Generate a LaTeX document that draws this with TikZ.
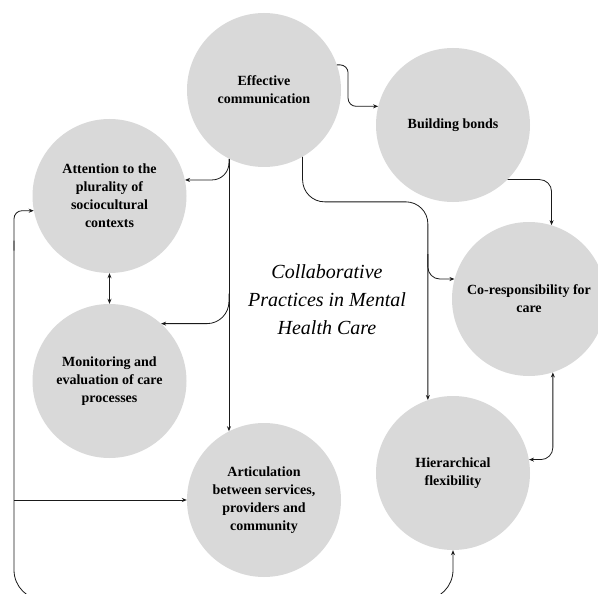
\documentclass[tikz,border=0pt]{standalone}
\usepackage{fontspec}
\setmainfont{Liberation Serif}
\usetikzlibrary{arrows.meta,calc}
\definecolor{circfill}{HTML}{D9D9D9}
\definecolor{ink}{HTML}{1A1A1A}
\begin{document}
\begin{tikzpicture}[x=1pt,y=-1pt,
  bubble/.style={circle,fill=circfill,minimum size=154pt,inner sep=0pt,align=center,
    font=\fontsize{14}{18}\selectfont\bfseries,text=black},
  titletext/.style={align=center,font=\fontsize{20}{28}\selectfont\itshape,text=black},
  conn/.style={draw=ink,line width=0.8pt,-{Stealth[length=5pt,width=4pt]}},
  conntwo/.style={draw=ink,line width=0.8pt,{Stealth[length=5pt,width=4pt]}-{Stealth[length=5pt,width=4pt]}}]
\useasboundingbox (0,0) rectangle (598,594);
\clip (0,0) rectangle (598,594);
\fill[white] (0,0) rectangle (598,594);

\node[bubble] (ec) at (264,90) {Effective\\communication};
\node[bubble] (bb) at (453,125) {Building bonds};
\node[bubble] (at) at (109.5,196) {Attention to the\\plurality of\\sociocultural\\contexts};
\node[bubble] (cr) at (529,299) {Co-responsibility for\\care};
\node[bubble] (mo) at (109.5,381) {Monitoring and\\evaluation of care\\processes};
\node[bubble] (ar) at (264,500) {Articulation\\between services,\\providers and\\community};
\node[bubble] (hf) at (453,473) {Hierarchical\\flexibility};
\node[titletext] (tt) at (327,300) {Collaborative\\Practices in Mental\\Health Care};

% Effective communication -> Building bonds
\draw[conn,rounded corners=8pt] (ec.19) -| ($(bb.166)+(-30,0)$) -- (bb.166);
% Effective communication -> left column
\draw[conn,rounded corners=17pt] (ec.-117) |- (at.12);
\draw[conn] (ec.-117) -- (ar.117);
\coordinate (mb) at (ec.-117 |- mo.48);
\draw[conn,rounded corners=22pt] ($(mb)+(0,-30)$) |- (mo.48);
% Effective communication -> right column
\coordinate (rb) at ($(hf.109 |- ec.-60)+(0,45)$);
\draw[conn,rounded corners=22pt] (ec.-60) |- (rb) -- (hf.109);
\draw[conn,rounded corners=12pt] ($(hf.109 |- cr.165)+(0,-25)$) |- (cr.165);
% Building bonds -> Co-responsibility
\draw[conn,rounded corners=12pt] (bb.-45) -| (cr.73);
% Co-responsibility <-> Hierarchical flexibility
\draw[conntwo,rounded corners=12pt] (cr.-72) |- (hf.10);
% Attention <-> Monitoring
\draw[conntwo] (at.south) -- (mo.north);
% outer loop
\coordinate (lb) at (14,600);
\draw[conn,rounded corners=8pt] ($(lb |- at.191)+(0,40)$) |- (at.191);
\draw[conn,rounded corners=30pt] ($(lb |- at.191)+(0,30)$) -- (lb) -| (hf.south);
\draw[conn] (lb |- ar.west) -- (ar.west);
\end{tikzpicture}
\end{document}
